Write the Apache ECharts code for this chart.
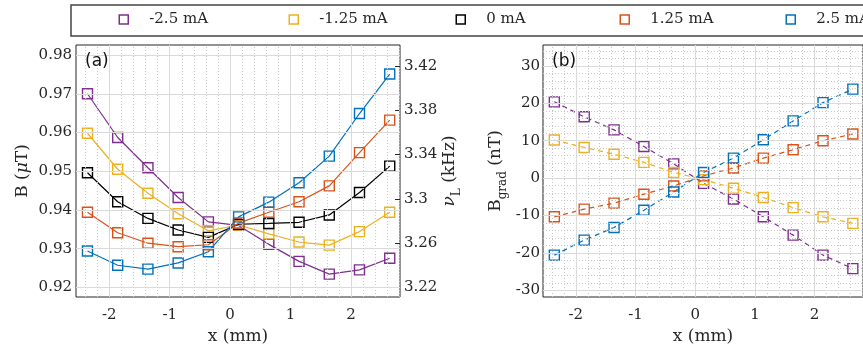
<!DOCTYPE html>
<html>
<head>
<meta charset="utf-8">
<script src="https://cdn.jsdelivr.net/npm/echarts@6/dist/echarts.min.js"></script>
<style>
  html, body { margin: 0; padding: 0; background: #fff; }
  #main { width: 863px; height: 350px; }
</style>
</head>
<body>
<div id="main"></div>
<script>
// 数据：线圈电流、采样位置
var seriesNames = ['-2.5 mA', '-1.25 mA', '0 mA', '1.25 mA', '2.5 mA'];
var colors = ['#7E2F8E', '#EDB120', '#000000', '#D95319', '#0072BD'];
var xPos = [-2.36, -1.86, -1.36, -0.86, -0.36, 0.14, 0.64, 1.14, 1.64, 2.14, 2.64];

// (a) 磁场 B (μT)
var bM250 = [0.9700, 0.9587, 0.9509, 0.9432, 0.9369, 0.9360, 0.9311, 0.9267, 0.9234, 0.9245, 0.9275];
var bM125 = [0.9598, 0.9505, 0.9443, 0.9390, 0.9346, 0.9361, 0.9338, 0.9317, 0.9309, 0.9344, 0.9394];
var b000 = [0.9496, 0.9421, 0.9378, 0.9348, 0.9329, 0.9363, 0.9365, 0.9368, 0.9387, 0.9445, 0.9513];
var bP125 = [0.9394, 0.9341, 0.9314, 0.9305, 0.9310, 0.9366, 0.9394, 0.9421, 0.9462, 0.9548, 0.9632];
var bP250 = [0.9294, 0.9257, 0.9247, 0.9263, 0.9292, 0.9382, 0.9420, 0.9470, 0.9539, 0.9649, 0.9751];

// (b) 梯度 B_grad (nT)，0 mA 没有画
var gM250 = [20.4, 16.4, 12.9, 8.45, 3.8, -1.4, -5.6, -10.35, -15.25, -20.6, -24.2];
var gM125 = [10.2, 8.2, 6.4, 4.2, 1.5, -0.4, -2.7, -5.2, -7.9, -10.35, -12.1];
var gP125 = [-10.35, -8.3, -6.7, -4.3, -2.1, 0.6, 2.7, 5.35, 7.6, 10.0, 11.8];
var gP250 = [-20.6, -16.6, -13.2, -8.6, -3.7, 1.5, 5.35, 10.25, 15.3, 20.2, 23.8];

// 刻度
var xTicks = [-2, -1, 0, 1, 2];
var bTicks = [0.92, 0.93, 0.94, 0.95, 0.96, 0.97, 0.98];
var nuTicks = [3.22, 3.26, 3.3, 3.34, 3.38, 3.42];
var gradTicks = [-30, -20, -10, 0, 10, 20, 30];

(function () {
    var myChart = echarts.init(document.getElementById('main'));
    var serif = 'DejaVu Serif';
    var ink = '#262626';

    var xMin = -2.55, xMax = 2.81;
    var bMin = 0.9175, bMax = 0.9826;
    var gMin = -31.8, gMax = 35.6;

    function zip(xs, ys) {
        return xs.map(function (x, i) { return [x, ys[i]]; });
    }
    // 次网格的位置
    function steps(lo, hi, step, skip) {
        var out = [];
        for (var k = Math.ceil(lo / step - 1e-9); k * step <= hi + 1e-9; k++) {
            var v = +(k * step).toFixed(6);
            var isMajor = skip.some(function (m) { return Math.abs(m - v) < 1e-7; });
            if (!isMajor) out.push(v);
        }
        return out;
    }
    var majorStyle = { color: '#dadada', width: 1, type: 'solid' };
    var minorStyle = { color: '#c8c8c8', width: 1, type: [1, 2] };
    function gridLines(xMajor, xMinor, yMajor, yMinor) {
        var d = [];
        xMinor.forEach(function (v) { d.push({ xAxis: v, lineStyle: minorStyle }); });
        yMinor.forEach(function (v) { d.push({ yAxis: v, lineStyle: minorStyle }); });
        xMajor.forEach(function (v) { d.push({ xAxis: v, lineStyle: majorStyle }); });
        yMajor.forEach(function (v) { d.push({ yAxis: v, lineStyle: majorStyle }); });
        return d;
    }
    function helper(xi, yi, data) {
        return {
            type: 'line', xAxisIndex: xi, yAxisIndex: yi, data: [], z: 1,
            markLine: {
                silent: true, symbol: ['none', 'none'], label: { show: false },
                animation: false, data: data
            }
        };
    }

    var xMinor = steps(xMin, xMax, 0.2, xTicks);
    var bMinor = steps(bMin, bMax, 0.002, bTicks);
    var gMinor = steps(gMin, gMax, 2, gradTicks);

    function valueAxis(opt) {
        var a = {
            type: 'value',
            gridIndex: opt.grid,
            position: opt.position,
            min: opt.min, max: opt.max,
            splitLine: { show: false },
            axisLine: { show: false, onZero: false },
            axisTick: { show: true, inside: true, length: 5, customValues: opt.ticks, lineStyle: { color: ink } },
            axisLabel: {
                show: opt.labels !== false, customValues: opt.ticks, margin: opt.margin || 4,
                fontFamily: serif, fontSize: 15, color: ink
            }
        };
        if (opt.name) {
            a.name = opt.name;
            a.nameLocation = 'middle';
            a.nameGap = opt.nameGap;
            a.nameTextStyle = {
                fontFamily: serif, fontSize: 17, color: ink,
                rich: {
                    n: { fontFamily: serif, fontSize: 17, color: ink },
                    i: { fontFamily: serif, fontSize: 17, color: ink, fontStyle: 'italic' },
                    s: { fontFamily: serif, fontSize: 12, color: ink, padding: [14, 0, 0, 0] }
                }
            };
        }
        return a;
    }

    var bLists = [bM250, bM125, b000, bP125, bP250];
    var gLists = [gM250, gM125, null, gP125, gP250];

    var series = [
        helper(0, 0, gridLines(xTicks, xMinor, bTicks, bMinor)),
        helper(1, 2, gridLines(xTicks, xMinor, gradTicks, gMinor))
    ];
    seriesNames.forEach(function (name, i) {
        series.push({
            name: name, type: 'line', xAxisIndex: 0, yAxisIndex: 0, z: 3,
            data: zip(xPos, bLists[i]),
            symbol: 'rect', symbolSize: 10,
            lineStyle: { color: colors[i], width: 1.2 },
            itemStyle: { color: 'transparent', borderColor: colors[i], borderWidth: 1.4 }
        });
        if (gLists[i]) {
            series.push({
                name: name, type: 'line', xAxisIndex: 1, yAxisIndex: 2, z: 3,
                data: zip(xPos, gLists[i]),
                symbol: 'rect', symbolSize: 10,
                lineStyle: { color: colors[i], width: 1.2, type: [5, 4] },
                itemStyle: { color: 'transparent', borderColor: colors[i], borderWidth: 1.4 }
            });
        }
    });

    // 图例：每项单独放，间距固定
    var legendCenters = [123, 293, 460, 624, 790];
    var legends = seriesNames.map(function (n, i) {
        return {
            data: [{ name: n, itemStyle: { color: 'transparent', borderColor: colors[i], borderWidth: 1.5 } }],
            left: legendCenters[i] - 4.5, top: 12,
            padding: 0, itemWidth: 9, itemHeight: 9,
            icon: 'rect',
            textStyle: { fontFamily: serif, fontSize: 15, color: ink, padding: [0, 0, 0, 16] }
        };
    });

    var option = {
        animation: false,
        backgroundColor: '#fff',
        legend: legends,
        grid: [
            { left: 76, top: 45, width: 324, height: 252, show: true, borderColor: ink, borderWidth: 1, backgroundColor: '#fff' },
            { left: 543, top: 45, width: 324, height: 252, show: true, borderColor: ink, borderWidth: 1, backgroundColor: '#fff' }
        ],
        xAxis: [
            valueAxis({ grid: 0, position: 'bottom', min: xMin, max: xMax, ticks: xTicks, margin: 11, name: 'x (mm)', nameGap: 30 }),
            valueAxis({ grid: 1, position: 'bottom', min: xMin, max: xMax, ticks: xTicks, margin: 11, name: 'x (mm)', nameGap: 30 }),
            valueAxis({ grid: 0, position: 'top', min: xMin, max: xMax, ticks: xTicks, labels: false }),
            valueAxis({ grid: 1, position: 'top', min: xMin, max: xMax, ticks: xTicks, labels: false })
        ],
        yAxis: [
            valueAxis({ grid: 0, position: 'left', min: bMin, max: bMax, ticks: bTicks, name: '{n|B (}{i|μ}{n|T)}', nameGap: 45 }),
            valueAxis({ grid: 0, position: 'right', min: bMin * 3.5, max: bMax * 3.5, ticks: nuTicks, name: '{i|ν}{s|L}{n| (kHz)}', nameGap: 36 }),
            valueAxis({ grid: 1, position: 'left', min: gMin, max: gMax, ticks: gradTicks, margin: 3, name: '{n|B}{s|grad}{n| (nT)}', nameGap: 34 })
        ],
        graphic: [
            { type: 'rect', z: 10, shape: { x: 71, y: 5, width: 830, height: 31 }, style: { fill: 'none', stroke: '#444', lineWidth: 1.5 } },
            { type: 'text', left: 85, top: 53, z: 10, style: { text: '(a)', font: '17px "DejaVu Sans"', fill: '#111' } },
            { type: 'text', left: 552, top: 53, z: 10, style: { text: '(b)', font: '17px "DejaVu Sans"', fill: '#111' } }
        ],
        series: series
    };

    myChart.setOption(option);
    window.addEventListener('resize', function () {
        myChart.resize();
    });
})();
</script>
</body>
</html>
